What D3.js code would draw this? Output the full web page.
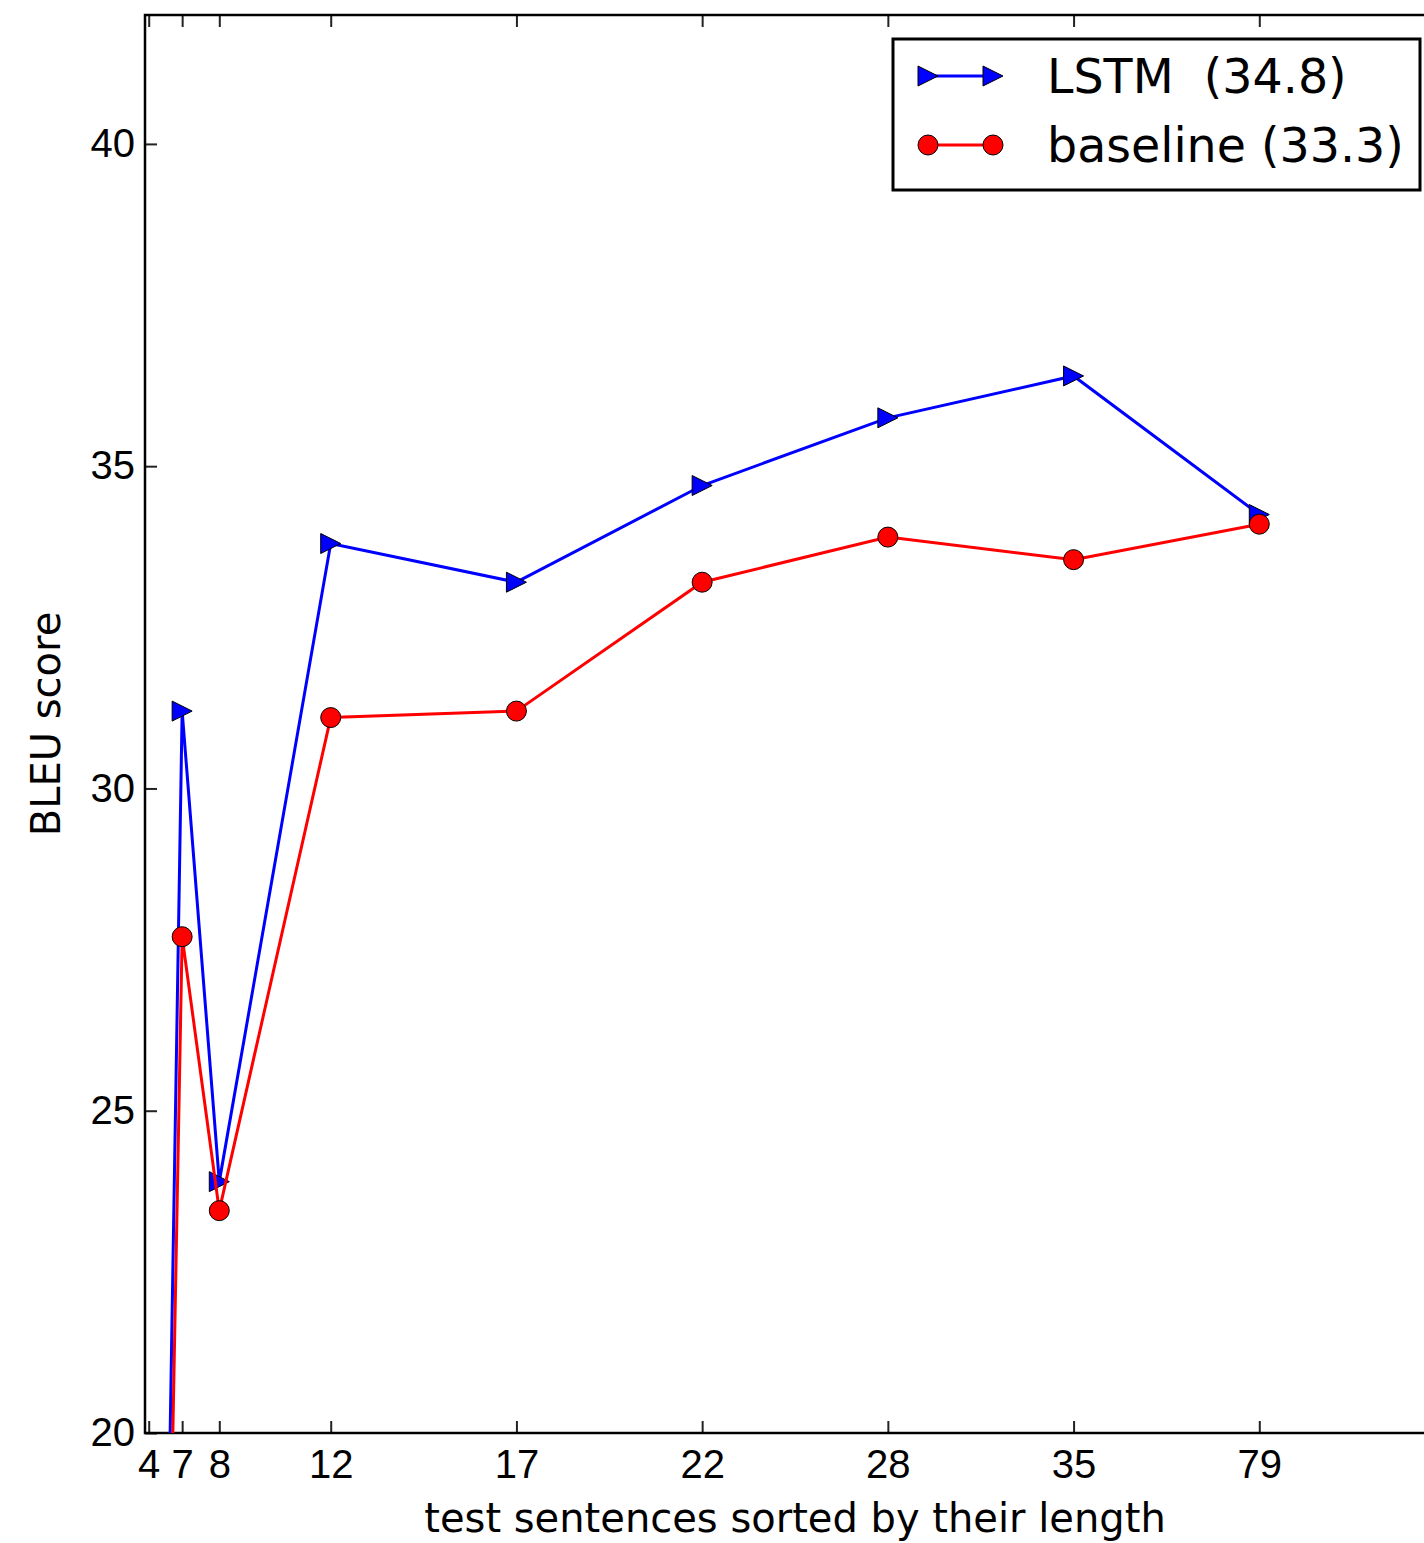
<!DOCTYPE html>
<html>
<head>
<meta charset="utf-8">
<script src="https://cdn.jsdelivr.net/npm/d3@7"></script>
<style>
  body { margin: 0; background: #fff; }
  svg { display: block; font-family: "DejaVu Sans", sans-serif; }
</style>
</head>
<body>
<div id="chart"></div>
<script>
// sentence length buckets (tick labels) and their place on the x axis
var lengthLabels = ["4", "7", "8", "12", "17", "22", "28", "35", "79"];
var lengthPos = [0.1, 1, 2, 5, 10, 15, 20, 25, 30];

// BLEU per bucket
var lstmScores = [0, 31.2, 23.9, 33.8, 33.2, 34.7, 35.75, 36.4, 34.25];
var baselineScores = [0, 27.7, 23.45, 31.1, 31.2, 33.2, 33.9, 33.55, 34.1];

var yTicks = [20, 25, 30, 35, 40];
var seriesNames = ["LSTM  (34.8)", "baseline (33.3)"];

// set the dimensions and margins of the graph
var W = 1424, H = 1543;
var margin = {top: 15, left: 145, bottom: 110},
    width = 1300,
    height = H - margin.top - margin.bottom;

var svg = d3.select("#chart")
  .append("svg")
  .attr("width", W)
  .attr("height", H);

var g = svg.append("g")
  .attr("transform", "translate(" + margin.left + "," + margin.top + ")");

var x = d3.scaleLinear().domain([0, 35]).range([0, width]);
var y = d3.scaleLinear().domain([20, 42]).range([height, 0]);

svg.append("clipPath").attr("id", "plot-clip")
  .append("rect")
  .attr("x", 0).attr("y", 0)
  .attr("width", width).attr("height", height);

// axes, ticks pointing inward like matplotlib classic
var xAxis = g.append("g")
  .attr("transform", "translate(0," + height + ")")
  .call(d3.axisBottom(x)
    .tickValues(lengthPos)
    .tickFormat(function(d, i) { return lengthLabels[i]; })
    .tickSizeInner(-12).tickSizeOuter(0).tickPadding(17));

var xTop = g.append("g")
  .call(d3.axisTop(x)
    .tickValues(lengthPos)
    .tickFormat("")
    .tickSizeInner(-12).tickSizeOuter(0));

var yAxis = g.append("g")
  .call(d3.axisLeft(y)
    .tickValues(yTicks)
    .tickSizeInner(-12).tickSizeOuter(0).tickPadding(10));

var yRight = g.append("g")
  .attr("transform", "translate(" + width + ",0)")
  .call(d3.axisRight(y).tickValues(yTicks).tickFormat("")
    .tickSizeInner(-12).tickSizeOuter(0));

g.selectAll(".domain").remove();
g.selectAll(".tick line").attr("stroke", "#222").attr("stroke-width", 2);
g.selectAll(".tick text")
  .attr("fill", "#000")
  .style("font-size", "40px");

// frame
g.append("rect")
  .attr("width", width)
  .attr("height", height)
  .attr("fill", "none")
  .attr("stroke", "#000")
  .attr("stroke-width", 2.5);

// axis titles
svg.append("text")
  .attr("x", margin.left + width / 2)
  .attr("y", 1532)
  .attr("text-anchor", "middle")
  .style("font-size", "40px")
  .text("test sentences sorted by their length");

svg.append("text")
  .attr("transform", "translate(60," + (margin.top + height / 2) + ") rotate(-90)")
  .attr("text-anchor", "middle")
  .style("font-size", "40px")
  .text("BLEU score");

// markers
var tri = "M10,0L-10,-10L-10,10Z";
function drawMarker(sel, kind, color) {
  if (kind === "tri") {
    sel.append("path").attr("d", tri);
  } else {
    sel.append("circle").attr("r", 10);
  }
  sel.selectAll("path,circle")
    .attr("fill", color)
    .attr("stroke", "#000")
    .attr("stroke-width", 1);
}

var line = d3.line()
  .x(function(d, i) { return x(lengthPos[i]); })
  .y(function(d) { return y(d); });

var plot = g.append("g").attr("clip-path", "url(#plot-clip)");

var series = [
  {vals: lstmScores, color: "#0000ff", marker: "tri"},
  {vals: baselineScores, color: "#ff0000", marker: "dot"}
];

series.forEach(function(s) {
  plot.append("path")
    .datum(s.vals)
    .attr("d", line)
    .attr("fill", "none")
    .attr("stroke", s.color)
    .attr("stroke-width", 3);

  plot.selectAll(null)
    .data(s.vals)
    .enter()
    .append("g")
    .attr("transform", function(d, i) {
      return "translate(" + x(lengthPos[i]) + "," + y(d) + ")";
    })
    .each(function() { drawMarker(d3.select(this), s.marker, s.color); });
});

// legend
var legend = svg.append("g").attr("transform", "translate(893,39)");
legend.append("rect")
  .attr("width", 527)
  .attr("height", 151)
  .attr("fill", "#fff")
  .attr("stroke", "#000")
  .attr("stroke-width", 3);

series.forEach(function(s, i) {
  var row = legend.append("g").attr("transform", "translate(0," + (37 + i * 69) + ")");
  row.append("line")
    .attr("x1", 35).attr("x2", 100)
    .attr("stroke", s.color)
    .attr("stroke-width", 3);
  [35, 100].forEach(function(px) {
    drawMarker(row.append("g").attr("transform", "translate(" + px + ",0)"), s.marker, s.color);
  });
  row.append("text")
    .attr("x", 154)
    .attr("dy", "0.36em")
    .style("font-size", "47.5px")
    .style("white-space", "pre")
    .text(seriesNames[i]);
});
</script>
</body>
</html>
